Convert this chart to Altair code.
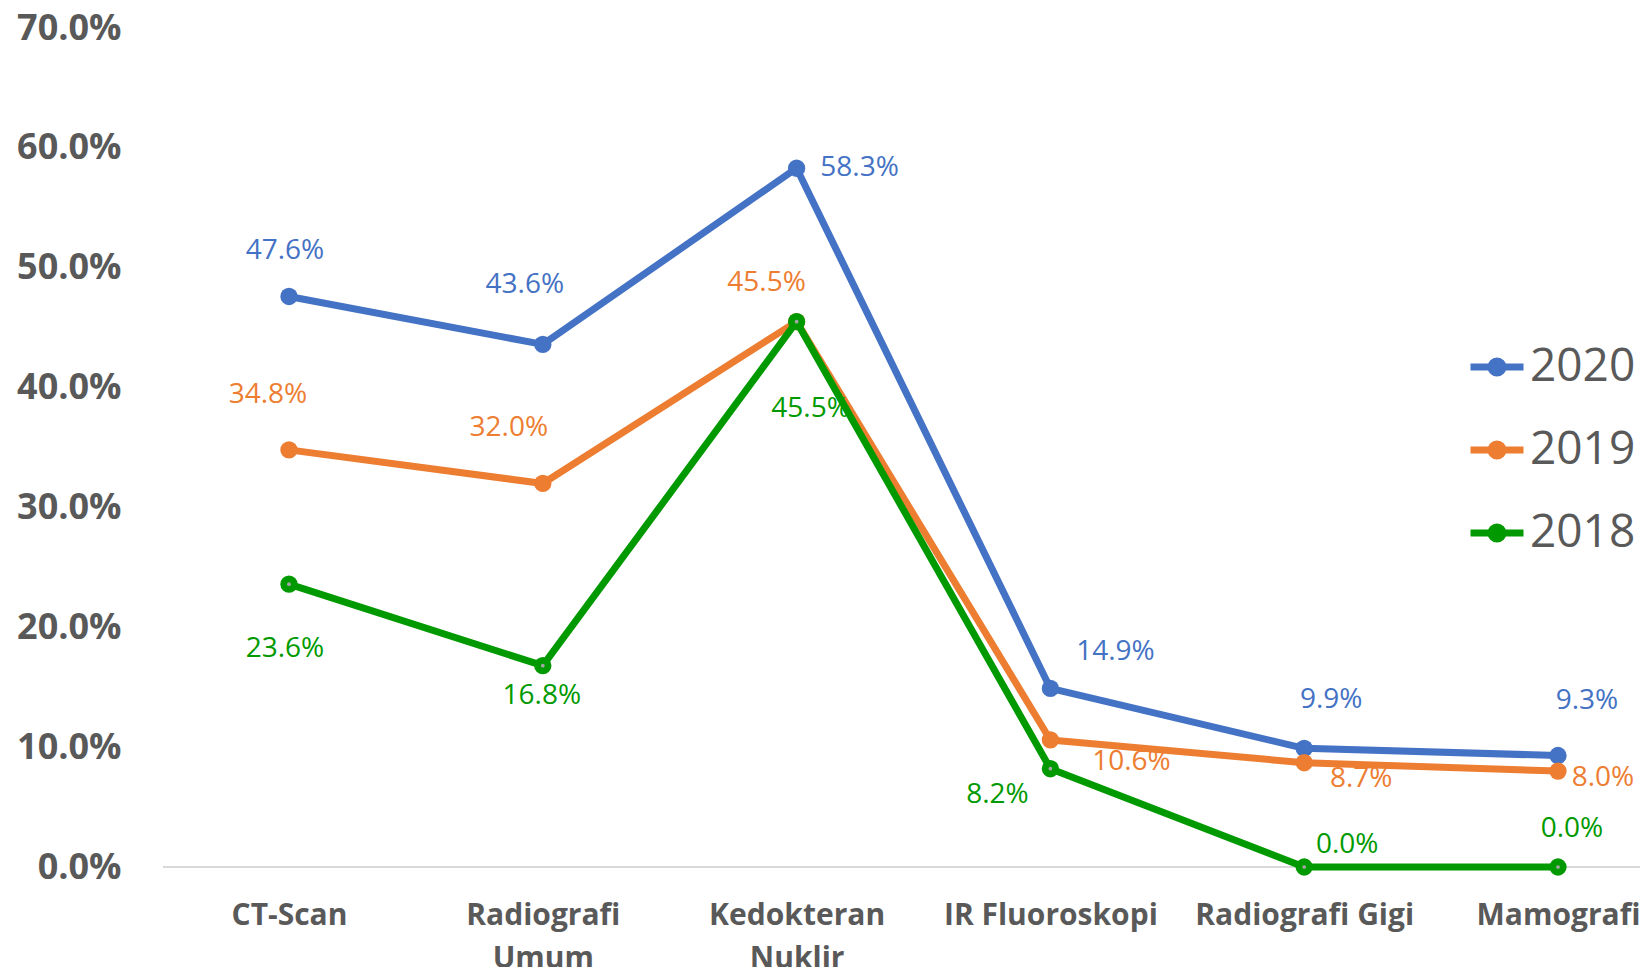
import altair as alt
import pandas as pd

# ---- data ----
categories = ["CT-Scan", "Radiografi Umum", "Kedokteran Nuklir",
              "IR Fluoroskopi", "Radiografi Gigi", "Mamografi"]
series = ["2020", "2019", "2018"]
values_2020 = [47.6, 43.6, 58.3, 14.9, 9.9, 9.3]
values_2019 = [34.8, 32.0, 45.5, 10.6, 8.7, 8.0]
values_2018 = [23.6, 16.8, 45.5, 8.2, 0.0, 0.0]
y_ticks = [0, 10, 20, 30, 40, 50, 60, 70]

# ---- styles / layout (kept apart from data) ----
colors = {"2020": "#4472C4", "2019": "#ED7D31", "2018": "#009A00"}
FONT = "Open Sans"
W, H = 1472, 839
# data-label offsets (dx, dy) per series, in category order
label_offsets = {
    "2020": [(-4, -45), (-18, -59), (63, 0), (65, -36), (27, -48), (29, -55)],
    "2019": [(-21, -55), (-34, -55), (-30, -39), (81, 22), (57, 16), (45, 7)],
    "2018": [(-4, 65), (-1, 30), (14, 87), (-53, 26), (43, -22), (14, -38)],
}

values = {"2020": values_2020, "2019": values_2019, "2018": values_2018}
rows = []
for s in series:
    for c, v in zip(categories, values[s]):
        rows.append({"Kategori": c, "Tahun": s, "Nilai": v})
df = pd.DataFrame(rows)

xscale = alt.Scale(type="point", domain=categories, range=[127, 1396], padding=0)
yscale = alt.Scale(domain=[0, 70], nice=False, zero=True)
cscale = alt.Scale(domain=series, range=[colors[s] for s in series])

label_expr = ("datum.label == 'Radiografi Umum' ? ['Radiografi', 'Umum'] : "
              "datum.label == 'Kedokteran Nuklir' ? ['Kedokteran', 'Nuklir'] : datum.label")

x_axis = alt.Axis(domain=False, ticks=False, tickSize=0, grid=False,
                  labelExpr=label_expr, labelFont=FONT, labelFontSize=30,
                  labelFontWeight="bold", labelColor="#595959", labelLimit=0,
                  labelPadding=33, labelLineHeight=43, labelAngle=0)
y_axis = alt.Axis(values=y_ticks, domain=False, ticks=False, tickSize=0,
                  grid=False, labelExpr="format(datum.value, '.1f') + '%'",
                  labelFont=FONT, labelFontSize=36, labelFontWeight="bold",
                  labelColor="#595959", labelPadding=41)
x_enc = alt.X("Kategori:N", scale=xscale, sort=categories, title=None, axis=x_axis)
y_enc = alt.Y("Nilai:Q", scale=yscale, title=None, axis=y_axis)

# line with a solid dot drawn as concentric stroked rings
r1, r2 = 0.132, 0.226
legend_path = (
    "M-1,0L1,0"
    f"M-{r1},0A{r1},{r1},0,1,1,{r1},0A{r1},{r1},0,1,1,-{r1},0Z"
    f"M-{r2},0A{r2},{r2},0,1,1,{r2},0A{r2},{r2},0,1,1,-{r2},0Z"
)
legend = alt.Legend(
    title=None, orient="none", legendX=1305, legendY=309,
    symbolType=legend_path, symbolSize=2809, symbolStrokeWidth=7,
    labelFont=FONT, labelFontSize=46, labelColor="#595959",
    labelOffset=3, rowPadding=30, padding=0)

base = alt.Chart(df)

layers = []
first = True
for s in series:
    sub = base.transform_filter(alt.datum.Tahun == s)
    layers.append(sub.mark_line(strokeWidth=7, strokeCap="round", strokeJoin="round").encode(
        x=x_enc, y=y_enc,
        color=alt.Color("Tahun:N", scale=cscale, legend=legend if first else None)))
    first = False
    layers.append(sub.mark_point(filled=True, opacity=1, size=300, shape="circle").encode(
        x=x_enc, y=y_enc,
        color=alt.Color("Tahun:N", scale=cscale, legend=None)))
    if s == "2018":
        layers.append(sub.mark_point(filled=True, opacity=1, size=14, shape="circle",
                                     color="#A6A6A6").encode(x=x_enc, y=y_enc))

baseline = alt.Chart(pd.DataFrame({"Nilai": [0]})).mark_rule(
    color="#D9D9D9", strokeWidth=2).encode(
    y=y_enc, x=alt.value(1), x2=alt.value(W + 6))
layers.insert(0, baseline)

for s in series:
    for i, c in enumerate(categories):
        dx, dy = label_offsets[s][i]
        layers.append(
            base.transform_filter((alt.datum.Tahun == s) & (alt.datum.Kategori == c))
            .transform_calculate(lbl="format(datum.Nilai, '.1f') + '%'")
            .mark_text(font=FONT, fontSize=28, color=colors[s], dx=dx, dy=dy,
                       align="center", baseline="middle")
            .encode(x=x_enc, y=y_enc, text="lbl:N"))

chart = alt.layer(*layers).properties(
    width=W, height=H,
    autosize=alt.AutoSizeParams(type="none"),
    padding={"left": 154, "top": 20, "right": 6, "bottom": 100},
).configure(background="white").configure_view(stroke=None)

chart.save("out.html", embed_options={"renderer": "svg", "actions": False})
